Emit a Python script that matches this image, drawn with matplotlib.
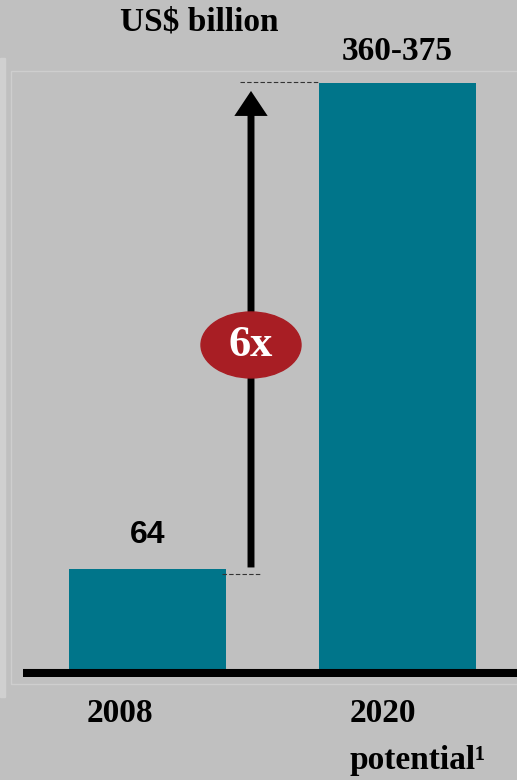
import matplotlib.pyplot as plt
from matplotlib.patches import Ellipse, FancyArrowPatch, Rectangle

years = ['2008', '2020']
values = [64, 375]
range_label = '360-375'
growth = '6x'

bg = '#c0c0c0'
teal = '#00758a'
red = '#a81e24'
serif = 'Liberation Serif'

fig = plt.figure(figsize=(5.17, 7.8), dpi=100, facecolor=bg)

# faint frame lines from the original slide
fig.patches.append(Rectangle((0, 1 - 697 / 780), 5 / 517, (697 - 58) / 780,
                             transform=fig.transFigure, color='#d0d0d0', zorder=0))
fig.patches.append(Rectangle((11 / 517, 1 - 684 / 780), 1, (684 - 71) / 780,
                             transform=fig.transFigure, fill=False,
                             edgecolor='#cecece', lw=1, zorder=0))

ax = fig.add_axes([23 / 517, 103 / 780, 494 / 517, 617 / 780])
ax.set_facecolor('none')
x = [0, 1]
bw = 0.628
ax.bar(x, values, width=bw, color=teal, zorder=2)
ax.set_xlim(-0.498, 1.478)
ax.set_ylim(-5.12, 389.8)
ax.axhline(-2.56, color='black', lw=5.8, zorder=3, solid_capstyle='butt')
for s in ax.spines.values():
    s.set_visible(False)
ax.set_xticks([])
ax.set_yticks([])

# value label for 2008
ax.text(x[0], values[0] + 22, str(values[0]), ha='center', va='center',
        fontsize=23, fontweight='bold', family='Liberation Sans')

# arrow and dashed guides
xa = 0.414
ax.plot([x[0] + bw / 2 - 0.015, 0.454], [values[0] - 3, values[0] - 3],
        color='#333333', lw=0.8, ls=(0, (4, 2)), zorder=3)
ax.plot([0.37, x[1] - bw / 2], [values[1] + 1, values[1] + 1],
        color='#333333', lw=0.8, ls=(0, (4, 2)), zorder=3)
arr = FancyArrowPatch((xa, values[0] + 1), (xa, values[1] - 5),
                      arrowstyle='simple,head_length=18,head_width=24,tail_width=5',
                      mutation_scale=1, color='black', lw=0, shrinkA=0, shrinkB=0,
                      zorder=4)
ax.add_patch(arr)
ax.add_patch(Ellipse((xa, 207.4), 0.4, 42.2, color=red, zorder=5))
ax.text(xa, 207.4, growth, ha='center', va='center', color='white',
        fontsize=32, fontweight='bold', family=serif, zorder=6)

# titles and category labels
fig.text(199 / 517, 1 - 22 / 780, 'US$ billion', ha='center', va='center',
         fontsize=24, fontweight='bold', family=serif)
fig.text(397 / 517, 1 - 52 / 780, range_label, ha='center', va='center',
         fontsize=24, fontweight='bold', family=serif)
fig.text(120 / 517, 1 - 714 / 780, years[0], ha='center', va='center',
         fontsize=24, fontweight='bold', family=serif)
fig.text(350 / 517, 1 - 714 / 780, years[1], ha='left', va='center',
         fontsize=24, fontweight='bold', family=serif)
fig.text(350 / 517, 1 - 760 / 780, 'potential\u00b9', ha='left', va='center',
         fontsize=24, fontweight='bold', family=serif)

fig.savefig('out.png', dpi=100, facecolor=bg)
